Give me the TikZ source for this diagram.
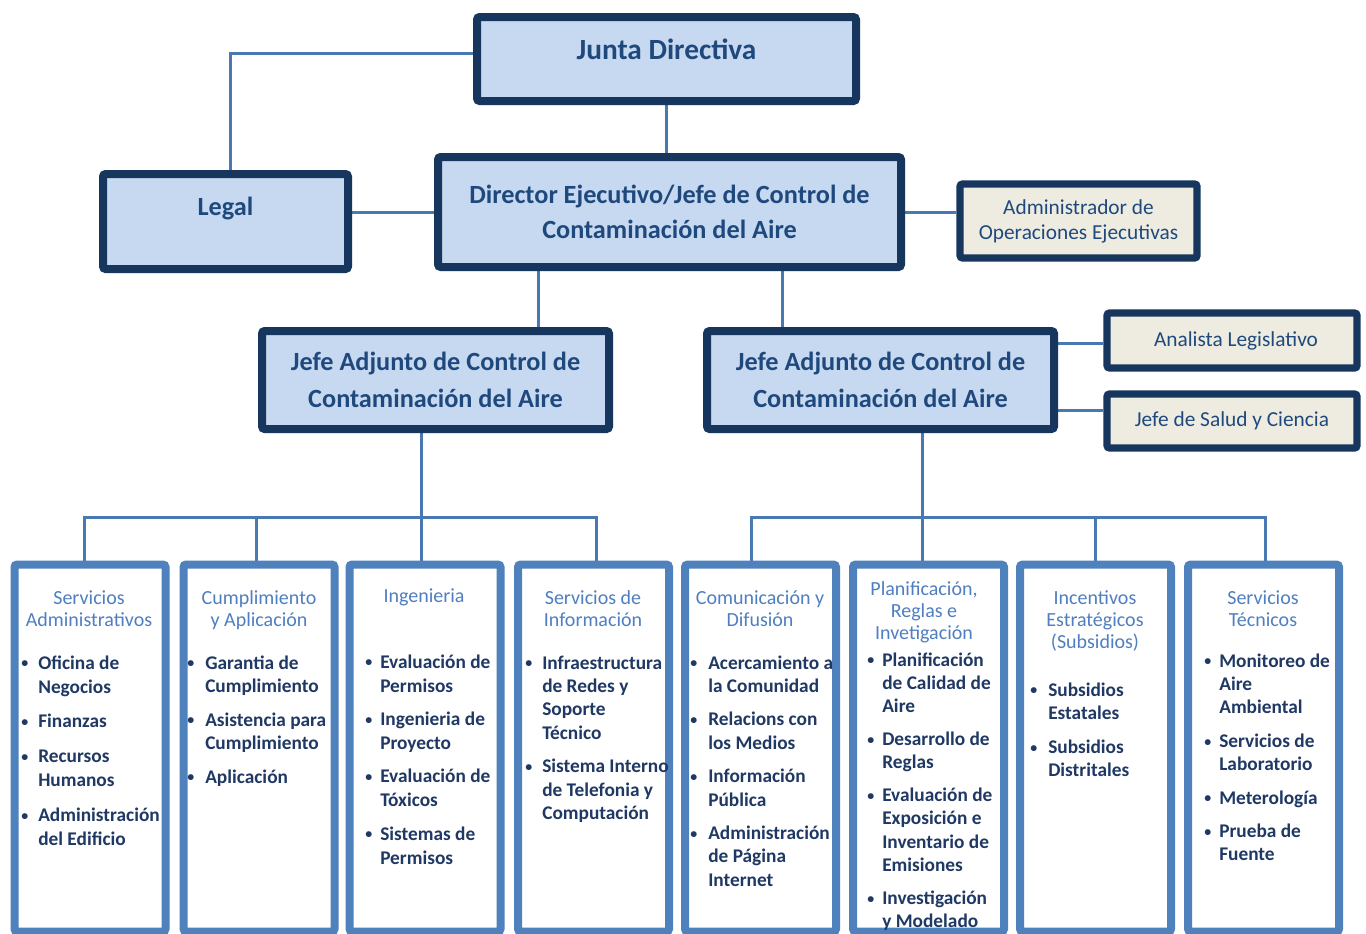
\documentclass[tikz,border=0pt]{standalone}
\usepackage{fontspec}
\setmainfont{Carlito}
\usetikzlibrary{calc}
\pgfdeclarelayer{bg}
\pgfsetlayers{bg,main}
\definecolor{navy}{HTML}{17365D}
\definecolor{boxblue}{HTML}{C6D9F1}
\definecolor{beige}{HTML}{EEECE1}
\definecolor{acc}{HTML}{4F81BD}
\definecolor{conc}{HTML}{4A78B0}
\definecolor{txtd}{HTML}{1F497D}
\definecolor{itemc}{HTML}{1F3864}
\definecolor{titc}{HTML}{4F7FC0}
\newlength\pxu \setlength\pxu{0.75pt}
\newlength\bw
\newcommand\bl{\makebox[\bw][l]{\raisebox{0.9pt}{\scalebox{0.72}{\textbullet}}}}
\newcommand\ind{\hspace*{\bw}}
\begin{document}
\begin{tikzpicture}[x=0.75pt,y=-0.75pt,
  topbox/.style={draw=navy, line width=6pt, fill=boxblue, rounded corners=2pt,
    text=txtd, font=\bfseries\fontsize{19.7}{26.25}\selectfont, align=center, inner sep=0pt},
  sidebox/.style={draw=navy, line width=5.5pt, fill=beige, rounded corners=2pt,
    text=txtd, font=\fontsize{16}{18.75}\selectfont, align=center, inner sep=0pt},
  colbox/.style={draw=acc, line width=6pt, fill=white, rounded corners=2pt,
    minimum width=113.25pt, minimum height=275.25pt, inner sep=0pt},
  coltitle/.style={text=titc, inner sep=0pt, anchor=base, font=\fontsize{15}{16.5}\selectfont},
  colitem/.style={text=itemc, inner sep=0pt, anchor=base west, font=\bfseries\fontsize{14.5}{17.6}\selectfont},
  conn/.style={draw=conc, line width=2.25pt}]
\useasboundingbox (0,0) rectangle (1366,933);

% top level boxes
\node[topbox, minimum width=284.25pt, minimum height=63pt, text depth=15pt,
  font=\bfseries\fontsize{22}{26}\selectfont] (junta) at (666.5,59) {Junta Directiva};
\node[topbox, minimum width=183.75pt, minimum height=71.25pt, text depth=23pt] (legal) at (225.5,221.5) {Legal};
\node[topbox, minimum width=347.25pt, minimum height=82.5pt] (dir) at (669.5,212)
  {Director Ejecutivo/Jefe de Control de\\Contaminación del Aire};
\node[sidebox, minimum width=177.75pt, minimum height=55.5pt] (adm) at (1078.5,221)
  {Administrador de\\Operaciones Ejecutivas};
\node[topbox, minimum width=260.25pt, minimum height=73.5pt, font=\bfseries\fontsize{19.7}{27.75}\selectfont] (jl) at (435.5,380)
  {Jefe Adjunto de Control de\\Contaminación del Aire};
\node[topbox, minimum width=260.25pt, minimum height=73.5pt, font=\bfseries\fontsize{19.7}{27.75}\selectfont] (jr) at (880.5,380)
  {Jefe Adjunto de Control de\\Contaminación del Aire};
\node[sidebox, minimum width=187.5pt, minimum height=41.25pt] (an) at (1232,340.5) {\hspace*{6pt}Analista Legislativo};
\node[sidebox, minimum width=187.5pt, minimum height=40.5pt] (sa) at (1232,421) {Jefe de Salud y Ciencia};

% column boxes
\node[colbox] (c1) at (90,748) {};
\node[colbox] (c2) at (259,748) {};
\node[colbox] (c3) at (425,748) {};
\node[colbox] (c4) at (593.5,748) {};
\node[colbox] (c5) at (760.5,748) {};
\node[colbox] (c6) at (928.5,748) {};
\node[colbox] (c7) at (1095.5,748) {};
\node[colbox] (c8) at (1263.5,748) {};

% connectors
\begin{pgfonlayer}{bg}
\fill[white] (0,0) rectangle (1366,933);
\coordinate (jw) at ($(junta.west)+(0,-6)$);
\coordinate (lnorth) at ($(legal.north)+(4.5,0)$);
\draw[conn] (jw) -| (lnorth);
\draw[conn] (junta.south) -- (junta.south |- dir.north);
\draw[conn] (legal.east |- dir.west) -- (dir.west);
\coordinate (de) at ($(dir.east)+(0,0)$);
\draw[conn] (de) -- (de -| adm.west);
\coordinate (d1) at ($(dir.south)+(-131.5,0)$);
\draw[conn] (d1) -- (d1 |- jl.north);
\coordinate (d2) at ($(dir.south)+(112.5,0)$);
\draw[conn] (d2) -- (d2 |- jr.north);
\coordinate (a1) at ($(jr.east)+(0,-37)$);
\draw[conn] (a1) -- (a1 -| an.west);
\coordinate (a2) at ($(jr.east)+(0,30)$);
\draw[conn] (a2) -- (a2 -| sa.west);
% left group
\coordinate (busL) at (0,517);
\coordinate (lb) at ($(jl.south)+(-14.5,0)$);
\draw[conn] (lb) -- (lb |- busL);
\coordinate (t1) at ($(c1.north)+(-6,0)$);
\coordinate (t2) at ($(c2.north)+(-3,0)$);
\coordinate (t3) at ($(c3.north)+(-4,0)$);
\coordinate (t4) at ($(c4.north)+(2.5,0)$);
\draw[conn] (t1) |- (t4 |- busL) -- (t4);
\draw[conn] (t2) -- (t2 |- busL);
\draw[conn] (t3) -- (t3 |- busL);
% right group
\coordinate (rb) at ($(jr.south)+(41.5,0)$);
\coordinate (t5) at ($(c5.north)+(-9.5,0)$);
\coordinate (t6) at ($(c6.north)+(-6.5,0)$);
\coordinate (t7) at ($(c7.north)+(-0.5,0)$);
\coordinate (t8) at ($(c8.north)+(1.5,0)$);
\draw[conn] (rb) -- (rb |- busL);
\draw[conn] (t5) |- (t8 |- busL) -- (t8);
\draw[conn] (t6) -- (t6 |- busL);
\draw[conn] (t7) -- (t7 |- busL);
\end{pgfonlayer}

% column titles
\node[coltitle] (h1) at (89,604) {\begin{tabular}[t]{@{}c@{}}Servicios\\Administrativos\end{tabular}};
\node[coltitle] (h2) at (259,604) {\begin{tabular}[t]{@{}c@{}}Cumplimiento\\y Aplicación\end{tabular}};
\node[coltitle] (h3) at (424,602) {\begin{tabular}[t]{@{}c@{}}Ingenieria\end{tabular}};
\node[coltitle] (h4) at (593,604) {\begin{tabular}[t]{@{}c@{}}Servicios de\\Información\end{tabular}};
\node[coltitle] (h5) at (760,604) {\begin{tabular}[t]{@{}c@{}}Comunicación y\\Difusión\end{tabular}};
\node[coltitle] (h6) at (924,595) {\begin{tabular}[t]{@{}c@{}}Planificación,\\Reglas e\\Invetigación\end{tabular}};
\node[coltitle] (h7) at (1095,604) {\begin{tabular}[t]{@{}c@{}}Incentivos\\Estratégicos\\(Subsidios)\end{tabular}};
\node[coltitle] (h8) at (1263,604) {\begin{tabular}[t]{@{}c@{}}Servicios\\Técnicos\end{tabular}};

% column items
\node[colitem, font=\bfseries\fontsize{14.5}{18}\selectfont] (i1) at (21,669) {\setlength\bw{17\pxu}\begin{tabular}[t]{@{}l@{}}
\bl Oficina de\\ \ind Negocios\\[8.2pt]
\bl Finanzas\\[8.2pt]
\bl Recursos\\ \ind Humanos\\[8.2pt]
\bl Administración\\ \ind del Edificio
\end{tabular}};
\node[colitem] (i2) at (187,669) {\setlength\bw{18\pxu}\begin{tabular}[t]{@{}l@{}}
\bl Garantia de\\ \ind Cumplimiento\\[7.6pt]
\bl Asistencia para\\ \ind Cumplimiento\\[7.6pt]
\bl Aplicación
\end{tabular}};
\node[colitem, font=\bfseries\fontsize{14.5}{18}\selectfont] (i3) at (365,668) {\setlength\bw{15\pxu}\begin{tabular}[t]{@{}l@{}}
\bl Evaluación de\\ \ind Permisos\\[7pt]
\bl Ingenieria de\\ \ind Proyecto\\[7pt]
\bl Evaluación de\\ \ind Tóxicos\\[7pt]
\bl Sistemas de\\ \ind Permisos
\end{tabular}};
\node[colitem] (i4) at (525,669) {\setlength\bw{17\pxu}\begin{tabular}[t]{@{}l@{}}
\bl Infraestructura\\ \ind de Redes y\\ \ind Soporte\\ \ind Técnico\\[7.4pt]
\bl Sistema Interno\\ \ind de Telefonia y\\ \ind Computación
\end{tabular}};
\node[colitem] (i5) at (690,669) {\setlength\bw{18\pxu}\begin{tabular}[t]{@{}l@{}}
\bl Acercamiento a\\ \ind la Comunidad\\[7.4pt]
\bl Relacions con\\ \ind los Medios\\[7.4pt]
\bl Información\\ \ind Pública\\[7.4pt]
\bl Administración\\ \ind de Página\\ \ind Internet
\end{tabular}};
\node[colitem, font=\bfseries\fontsize{14.5}{17.4}\selectfont] (i6) at (867,666) {\setlength\bw{15\pxu}\begin{tabular}[t]{@{}l@{}}
\bl Planificación\\ \ind de Calidad de\\ \ind Aire\\[7.4pt]
\bl Desarrollo de\\ \ind Reglas\\[7.4pt]
\bl Evaluación de\\ \ind Exposición e\\ \ind Inventario de\\ \ind Emisiones\\[7.4pt]
\bl Investigación\\ \ind y Modelado
\end{tabular}};
\node[colitem] (i7) at (1030,696) {\setlength\bw{18\pxu}\begin{tabular}[t]{@{}l@{}}
\bl Subsidios\\ \ind Estatales\\[7.8pt]
\bl Subsidios\\ \ind Distritales
\end{tabular}};
\node[colitem] (i8) at (1204,667) {\setlength\bw{15\pxu}\begin{tabular}[t]{@{}l@{}}
\bl Monitoreo de\\ \ind Aire\\ \ind Ambiental\\[7.4pt]
\bl Servicios de\\ \ind Laboratorio\\[7.4pt]
\bl Meterología\\[7.4pt]
\bl Prueba de\\ \ind Fuente
\end{tabular}};
\end{tikzpicture}
\end{document}
